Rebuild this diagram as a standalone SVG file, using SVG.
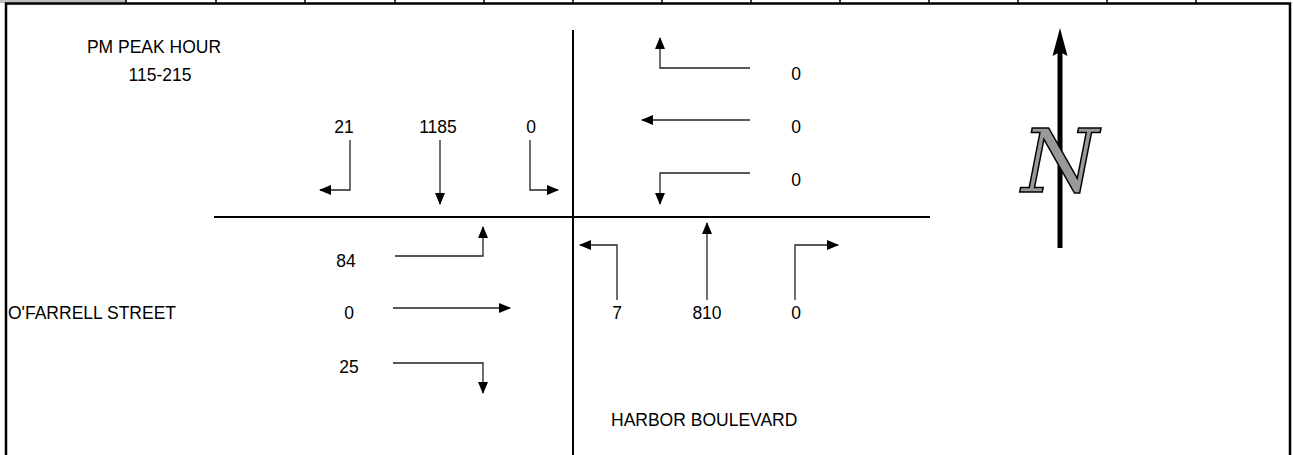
<svg xmlns="http://www.w3.org/2000/svg" width="1293" height="455" viewBox="0 0 1293 455">
<style>
.t{font-family:"Liberation Sans",Arial,sans-serif;font-size:17.5px;fill:#000}
.m{text-anchor:middle}
.a{fill:none;stroke:#222;stroke-width:1.3}
.frame{stroke:#000;stroke-width:2.5;fill:none}
.st{stroke:#000;stroke-width:2;fill:none}
.div{stroke:#000;stroke-width:1.5}
</style>
<defs>
<marker id="ah" viewBox="0 0 12 10" refX="11" refY="5" markerWidth="12" markerHeight="10" markerUnits="userSpaceOnUse" orient="auto">
<path d="M0,0 L12,5 L0,10 Z" fill="#000"/>
</marker>
</defs>
<rect width="1293" height="455" fill="#fff"/>
<g id="header">
<rect x="0" y="0" width="126" height="3" fill="#c0c0c0"/>
<g class="div">
<line x1="126" y1="0" x2="126" y2="3"/><line x1="216" y1="0" x2="216" y2="3"/><line x1="305" y1="0" x2="305" y2="3"/><line x1="395" y1="0" x2="395" y2="3"/><line x1="484" y1="0" x2="484" y2="3"/><line x1="573" y1="0" x2="573" y2="3"/><line x1="662" y1="0" x2="662" y2="3"/><line x1="751" y1="0" x2="751" y2="3"/><line x1="840" y1="0" x2="840" y2="3"/><line x1="929" y1="0" x2="929" y2="3"/><line x1="1018" y1="0" x2="1018" y2="3"/><line x1="1107" y1="0" x2="1107" y2="3"/><line x1="1196" y1="0" x2="1196" y2="3"/>
</g>
</g>
<g id="frame">
<path class="frame" d="M6,455 V3.5 H1290 V455"/>
</g>
<g id="streets">
<line class="st" x1="214" y1="217" x2="930" y2="217"/>
<line class="st" x1="573" y1="30" x2="573" y2="455"/>
</g>
<g id="labels">
<text class="t m" x="154" y="53">PM PEAK HOUR</text>
<text class="t m" x="160" y="81">115-215</text>
<text class="t" x="8" y="319">O'FARRELL STREET</text>
<text class="t" x="611" y="426">HARBOR BOULEVARD</text>
</g>
<g id="southbound">
<text class="t m" x="344" y="133">21</text>
<text class="t m" x="438" y="133">1185</text>
<text class="t m" x="531" y="133">0</text>
</g>
<g id="westbound">
<text class="t m" x="796" y="80">0</text>
<text class="t m" x="796" y="133">0</text>
<text class="t m" x="796" y="186">0</text>
</g>
<g id="eastbound">
<text class="t m" x="346" y="267">84</text>
<text class="t m" x="349" y="319">0</text>
<text class="t m" x="349" y="373">25</text>
</g>
<g id="northbound">
<text class="t m" x="617" y="319">7</text>
<text class="t m" x="707" y="319">810</text>
<text class="t m" x="796" y="319">0</text>
</g>
<g id="connectors">
<path class="a" d="M350,140 V190 H320" marker-end="url(#ah)"/>
<path class="a" d="M440,140 V204" marker-end="url(#ah)"/>
<path class="a" d="M530,140 V190 H558" marker-end="url(#ah)"/>
<path class="a" d="M750,68 H660 V38" marker-end="url(#ah)"/>
<path class="a" d="M750,120 H642" marker-end="url(#ah)"/>
<path class="a" d="M750,173 H660 V204" marker-end="url(#ah)"/>
<path class="a" d="M395,256 H483 V227" marker-end="url(#ah)"/>
<path class="a" d="M393,308 H510" marker-end="url(#ah)"/>
<path class="a" d="M393,363 H483 V393" marker-end="url(#ah)"/>
<path class="a" d="M617,300 V245 H580" marker-end="url(#ah)"/>
<path class="a" d="M707,300 V223" marker-end="url(#ah)"/>
<path class="a" d="M795,300 V245 H838" marker-end="url(#ah)"/>
</g>
<g id="north">
<line x1="1060" y1="248" x2="1060" y2="50" stroke="#000" stroke-width="5"/>
<path d="M1060,28 L1067.5,56 L1060,52 L1052.5,56 Z" fill="#000"/>
<text x="1060" y="192" text-anchor="middle" font-family="'DejaVu Serif',serif" font-style="italic" font-size="88" fill="#999" stroke="#000" stroke-width="1.5">N</text>
</g>
</svg>
